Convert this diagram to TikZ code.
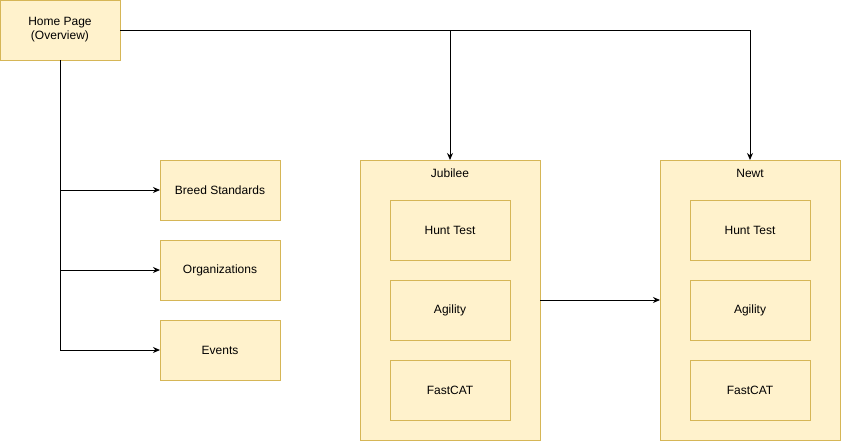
\documentclass[tikz,border=0pt]{standalone}
\usepackage{fontspec}
\setmainfont{Liberation Sans}
\usepackage{xcolor}
\usepackage{tikz}
\usetikzlibrary{arrows.meta,positioning}
\definecolor{pagefill}{HTML}{FFF2CC}
\definecolor{pageline}{HTML}{D6B656}
\tikzset{
  page/.style={
    draw=pageline,
    fill=pagefill,
    line width=1pt,
    align=center,
    minimum width=120pt,
    minimum height=60pt,
    inner sep=0pt,
    outer sep=0pt,
    font=\fontsize{12}{14}\selectfont
  },
  dog/.style={
    page,
    minimum width=180pt,
    minimum height=280pt
  },
  doglabel/.style={
    anchor=north,
    inner sep=0pt,
    font=\fontsize{12}{14}\selectfont
  },
  flow/.style={-{Stealth[length=7pt,width=6pt]}, line width=1pt}
}
\begin{document}
\begin{tikzpicture}[x=1pt,y=-1pt]
  \useasboundingbox (0,0) rectangle (841,442);
  \node[page] (home) at (60,30) {Home Page\\(Overview)};
  \node[page] (breed) at (220,190) {Breed Standards};
  \node[page, below=20pt of breed] (orgs) {Organizations};
  \node[page, below=20pt of orgs] (events) {Events};

  \node[dog] (jubilee) at (450,300) {};
  \node[doglabel] (jubileename) at (450,169) {Jubilee};
  \node[page] (jhunt) at (450,230) {Hunt Test};
  \node[page, below=20pt of jhunt] (jagility) {Agility};
  \node[page, below=20pt of jagility] (jfastcat) {FastCAT};

  \node[dog] (newt) at (750,300) {};
  \node[doglabel] (newtname) at (750,169) {Newt};
  \node[page] (nhunt) at (750,230) {Hunt Test};
  \node[page, below=20pt of nhunt] (nagility) {Agility};
  \node[page, below=20pt of nagility] (nfastcat) {FastCAT};

  \draw[flow] (home.south) |- (breed.west);
  \draw[flow] (home.south) |- (orgs.west);
  \draw[flow] (home.south) |- (events.west);
  \draw[flow] (home.east) -| (jubilee.north);
  \draw[flow] (home.east) -| (newt.north);
  \draw[flow] (jubilee.east) -- (newt.west);
\end{tikzpicture}
\end{document}
